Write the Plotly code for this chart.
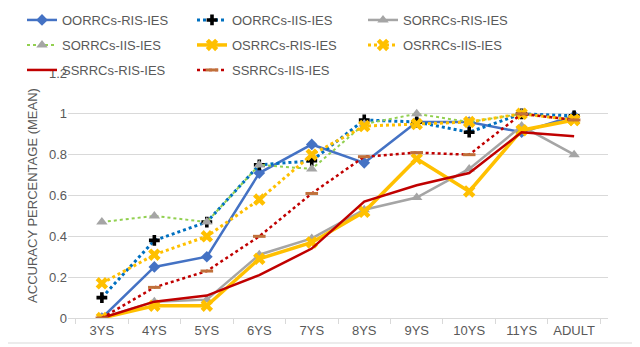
import plotly.graph_objects as go

# 연령대별 평균 정확도
ages = ["3YS", "4YS", "5YS", "6YS", "7YS", "8YS", "9YS", "10YS", "11YS", "ADULT"]

oorrcs_ris = [0.0, 0.25, 0.30, 0.71, 0.85, 0.76, 0.96, 0.96, 0.91, 0.99]
oorrcs_iis = [0.10, 0.38, 0.47, 0.75, 0.77, 0.97, 0.96, 0.91, 1.0, 0.99]
sorrcs_ris = [0.0, 0.08, 0.09, 0.31, 0.39, 0.53, 0.59, 0.73, 0.94, 0.80]
sorrcs_iis = [0.47, 0.50, 0.47, 0.75, 0.73, 0.95, 1.0, 0.96, 1.0, 0.97]
osrrcs_ris = [0.0, 0.06, 0.06, 0.29, 0.37, 0.52, 0.78, 0.62, 0.92, 0.97]
osrrcs_iis = [0.17, 0.31, 0.40, 0.58, 0.80, 0.94, 0.95, 0.96, 1.0, 0.97]
ssrrcs_ris = [0.0, 0.08, 0.11, 0.21, 0.34, 0.57, 0.65, 0.71, 0.91, 0.89]
ssrrcs_iis = [0.0, 0.15, 0.23, 0.40, 0.61, 0.79, 0.81, 0.80, 1.0, 0.97]

# name, values, line color, dash, width, marker symbol, marker color, marker size
series = [
    ("OORRCs-RIS-IES", oorrcs_ris, "#4472C4", "solid", 2.5, "diamond", "#4472C4", 9),
    ("OORRCs-IIS-IES", oorrcs_iis, "#0070C0", "dot", 3, "cross", "black", 9),
    ("SORRCs-RIS-IES", sorrcs_ris, "#A5A5A5", "solid", 2.5, "triangle-up", "#A5A5A5", 10),
    ("SORRCs-IIS-IES", sorrcs_iis, "#92D050", "dot", 2, "triangle-up", "#A5A5A5", 10),
    ("OSRRCs-RIS-IES", osrrcs_ris, "#FFC000", "solid", 3.5, "x", "#FFC000", 11),
    ("OSRRCs-IIS-IES", osrrcs_iis, "#FFC000", "dot", 3, "x", "#FFC000", 11),
    ("SSRRCs-RIS-IES", ssrrcs_ris, "#C00000", "solid", 2.5, None, None, 0),
    ("SSRRCs-IIS-IES", ssrrcs_iis, "#C00000", "dot", 2.5, "line-ew-open", "#C0703A", 9),
]

# page body has an 8px margin, so figure coords are shifted by -8
L, R, T, B = 60, 40, 65, 37
W, H = 640 - L - R, 347 - T - B

fig = go.Figure()
legends = {}
for i, (name, vals, color, dash, width, sym, mcol, msize) in enumerate(series):
    leg = "legend" if i == 0 else f"legend{i + 1}"
    if sym is None:
        fig.add_trace(go.Scatter(x=ages, y=vals, name=name, mode="lines", legend=leg,
                                 line=dict(color=color, dash=dash, width=width)))
    else:
        fig.add_trace(go.Scatter(
            x=ages, y=vals, name=name, mode="lines+markers", legend=leg,
            line=dict(color=color, dash=dash, width=width),
            marker=dict(symbol=sym, color=mcol, size=msize,
                        line=dict(color=mcol, width=3 if sym == "line-ew-open" else 0)),
        ))
    # 범례: 항목마다 따로 두어 Excel 스타일 3열 배치
    col, row = i % 3, i // 3
    px_left = [14, 184, 355][col]
    py = [12, 37, 62][row]
    legends[leg] = dict(x=(px_left - L) / W, y=1 + (T - py) / H,
                        xanchor="left", yanchor="middle",
                        font=dict(size=13, color="#595959"), bgcolor="rgba(0,0,0,0)")

fig.update_layout(
    width=640, height=347,
    margin=dict(l=L, r=R, t=T, b=B, autoexpand=False),
    paper_bgcolor="white", plot_bgcolor="white",
    font=dict(family="Liberation Sans, Arial", color="#595959", size=12),
    showlegend=True,
    **legends,
)
fig.update_xaxes(showgrid=False, showline=True, linecolor="#D9D9D9", automargin=False,
                 ticks="outside", tickson="boundaries", ticklen=5, tickcolor="#D9D9D9",
                 tickfont=dict(size=13, color="#595959"))
fig.update_yaxes(range=[0, 1.2], dtick=0.2, tickformat="~g", showgrid=True, automargin=False,
                 gridcolor="#D9D9D9", zeroline=False, showline=False,
                 title=dict(text="ACCURACY PERCENTAGE (MEAN)", font=dict(size=13, color="#595959"),
                            standoff=8),
                 tickfont=dict(size=13, color="#595959"))

# chart border (right and bottom edges)
fig.add_shape(type="line", xref="paper", yref="paper",
              x0=1 + (630 - L - W) / W, x1=1 + (630 - L - W) / W, y0=-(335 - T - H) / H, y1=1 + T / H,
              line=dict(color="#D9D9D9", width=1))
fig.add_shape(type="line", xref="paper", yref="paper",
              x0=-L / W, x1=1 + (630 - L - W) / W, y0=-(335 - T - H) / H, y1=-(335 - T - H) / H,
              line=dict(color="#D9D9D9", width=1))

fig.write_html("out.html")
